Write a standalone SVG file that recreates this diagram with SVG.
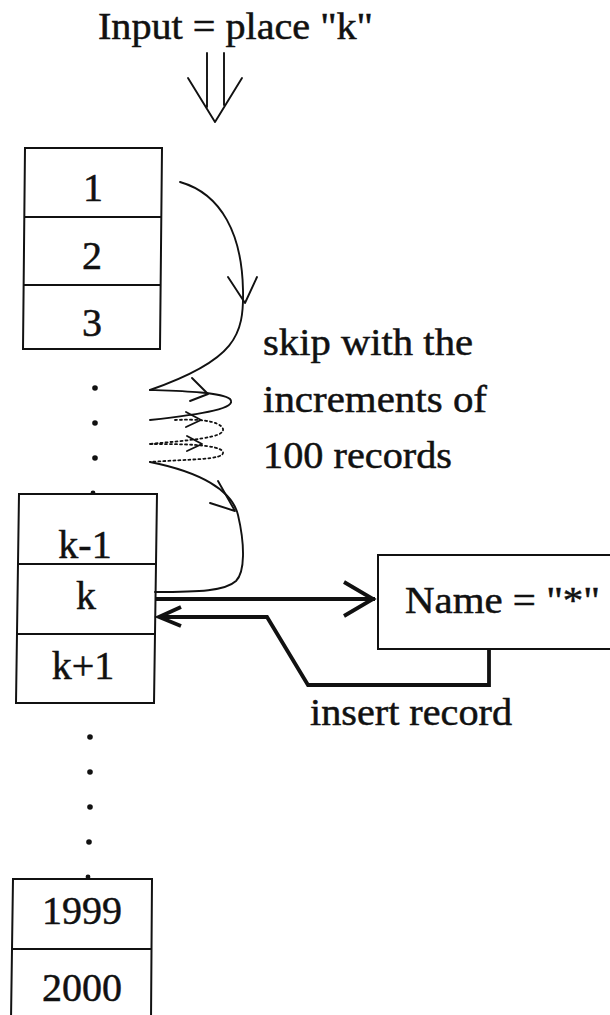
<svg xmlns="http://www.w3.org/2000/svg" width="610" height="1015" viewBox="0 0 610 1015">
  <style>
    .t { font-family: "Liberation Serif", "Times New Roman", serif; fill: #111; stroke: #111; stroke-width: 0.5; }
    .lbl { font-size: 38px; }
    .cell { font-size: 40px; text-anchor: middle; }
    .box { fill: #fff; stroke: #111; stroke-width: 2; }
    .thin { fill: none; stroke: #111; stroke-width: 1.9; stroke-linecap: round; stroke-linejoin: round; }
    .dot { fill: none; stroke: #111; stroke-width: 1.8; stroke-dasharray: 2 3; stroke-linecap: round; }
    .thick { fill: none; stroke: #111; stroke-width: 3.8; stroke-linejoin: miter; }
  </style>
  <rect width="610" height="1015" fill="#fff"/>

  <!-- input label and double arrow -->
  <g id="input">
    <text class="t lbl" x="98" y="39" textLength="275" lengthAdjust="spacingAndGlyphs">Input = place "k"</text>
    <path class="thin" d="M207,53 V107 M224,53 V105 M188,78 L215,122 L242,78"/>
  </g>

  <!-- records 1..3 -->
  <g id="records-top">
    <path class="box" d="M25,148 L162,148 L160,349 L23,349 Z"/>
    <path class="box" d="M24,217 H161 M23,285 H160"/>
    <text class="t cell" x="93" y="201">1</text>
    <text class="t cell" x="92" y="269">2</text>
    <text class="t cell" x="92" y="336">3</text>
  </g>

  <!-- dots between groups -->
  <g id="gap-dots" fill="#111">
    <circle cx="95" cy="388" r="2.8"/>
    <circle cx="95" cy="423" r="2.8"/>
    <circle cx="95" cy="458" r="2.8"/>
    <circle cx="93" cy="493" r="2.4"/>
    <circle cx="90" cy="737" r="2.8"/>
    <circle cx="90" cy="772" r="2.8"/>
    <circle cx="90" cy="807" r="2.8"/>
    <circle cx="89" cy="842" r="2.8"/>
    <circle cx="88" cy="877" r="2.4"/>
  </g>

  <!-- records k-1, k, k+1 -->
  <g id="records-k">
    <path class="box" d="M19,494 L157,494 L154,703 L16,703 Z"/>
    <path class="box" d="M18,564 H156 M17,634 H155"/>
    <text class="t cell" x="85" y="558">k-1</text>
    <text class="t cell" x="86" y="609">k</text>
    <text class="t cell" x="83" y="679">k+1</text>
  </g>

  <!-- records 1999, 2000 -->
  <g id="records-end">
    <path class="box" d="M13,879 L152,879 L151,1020 L11,1020 Z"/>
    <path class="box" d="M12,949 H151"/>
    <text class="t cell" x="82" y="924" textLength="80" lengthAdjust="spacingAndGlyphs">1999</text>
    <text class="t cell" x="82" y="1001" textLength="80" lengthAdjust="spacingAndGlyphs">2000</text>
  </g>

  <!-- search condition -->
  <g id="name-box">
    <rect class="box" x="378" y="555" width="240" height="94"/>
    <text class="t lbl" x="405" y="613" textLength="195" lengthAdjust="spacingAndGlyphs">Name = "*"</text>
  </g>

  <!-- skip description -->
  <g id="skip-note">
    <text class="t lbl" x="263" y="355" textLength="210" lengthAdjust="spacingAndGlyphs">skip with the</text>
    <text class="t lbl" x="263" y="412" textLength="224" lengthAdjust="spacingAndGlyphs">increments of</text>
    <text class="t lbl" x="263" y="468" textLength="189" lengthAdjust="spacingAndGlyphs">100 records</text>
  </g>

  <g id="insert-note">
    <text class="t lbl" x="310" y="725" textLength="202" lengthAdjust="spacingAndGlyphs">insert record</text>
  </g>

  <g id="connectors">
    <!-- first jump from record 1 -->
    <path class="thin" d="M180,182 C222,194 242,235 243,290 C244,335 236,360 150,390"/>
    <path class="thin" d="M228,277 L245,303 L257,277"/>
    <!-- solid skip loop -->
    <path class="thin" d="M150,390 C180,391 222,392 230,399 C238,408 205,414 150,420"/>
    <path class="thin" d="M192,378 L208,394 L190,401"/>
    <!-- dotted skip loops -->
    <path class="dot" d="M175,420 C195,419 220,420 223,429 C225,438 190,440 150,444"/>
    <path class="thin" d="M186,412 L201,420 L186,427"/>
    <path class="dot" d="M150,444 C178,444 220,444 223,452 C225,460 190,459 150,462"/>
    <path class="thin" d="M187,436 L202,444 L187,451"/>
    <!-- final approach to record k -->
    <path class="thin" d="M150,462 C200,472 232,490 238,515 C245,545 245,572 236,581 C225,591 200,592 155,592"/>
    <path class="thin" d="M218,481 L235,511 L210,503"/>
    <!-- lookup of the condition -->
    <path class="thick" d="M156,599 H375"/>
    <path class="thick" d="M344,582 L373,599 L344,616"/>
    <!-- insert back into record k -->
    <path class="thick" d="M489,649 V685 H308 L267,617 H159"/>
    <path class="thick" d="M181,607 L159,617 L181,626"/>
  </g>
</svg>
